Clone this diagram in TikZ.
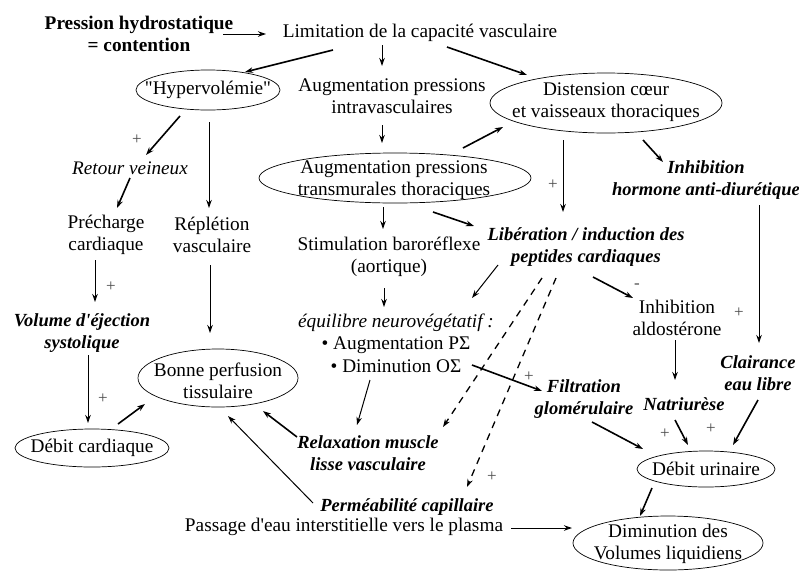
\documentclass[tikz,border=0pt]{standalone}
\usepackage{fontspec}
\setmainfont{Liberation Serif}[Ligatures=TeXOff]
\usetikzlibrary{arrows.meta,shapes.geometric}
\begin{document}
\begin{tikzpicture}[x=1pt,y=-1pt,
  txt/.style={inner sep=0pt, align=center, font=\fontsize{19.3}{22.5}\selectfont},
  itx/.style={txt, font=\fontsize{19.2}{22.5}\selectfont\itshape},
  bix/.style={txt, font=\fontsize{18.5}{22.5}\selectfont\bfseries\itshape},
  bdx/.style={txt, font=\fontsize{19.3}{22.5}\selectfont\bfseries},
  ell/.style={draw, ellipse, inner sep=0pt, line width=0.7pt},
  arr/.style={line width=1pt, -{Stealth[length=8pt,width=5.5pt]}},
  tarr/.style={arr, line width=1.6pt},
  darr/.style={arr, line width=1.3pt, dash pattern=on 7pt off 6pt},
  sgn/.style={inner sep=0pt, font=\fontsize{17}{17}\selectfont, text=black!70}
]
\useasboundingbox (0,0) rectangle (799,584);

% ellipses
\node[ell, minimum width=144pt, minimum height=40pt] (hyp) at (208,90) {};
\node[ell, minimum width=232pt, minimum height=60pt] (dist) at (606,103) {};
\node[ell, minimum width=272pt, minimum height=50pt] (trans) at (395,178) {};
\node[ell, minimum width=160pt, minimum height=58pt] (bonne) at (218,378) {};
\node[ell, minimum width=154pt, minimum height=38pt] (debc) at (92,448) {};
\node[ell, minimum width=138pt, minimum height=36pt] (debu) at (706,469) {};
\node[ell, minimum width=190pt, minimum height=54pt] (dimv) at (668,543) {};

% texts in ellipses
\node[txt] (hypt) at (hyp) {"Hypervolémie"};
\node[txt] (distt) at (606,102) {Distension cœur\\et vaisseaux thoraciques};
\node[txt] (transt) at (394,180) {Augmentation pressions\\transmurales thoraciques};
\node[txt] (bonnet) at (218,381) {Bonne perfusion\\tissulaire};
\node[txt] (debct) at (debc) {Débit cardiaque};
\node[txt] (debut) at (debu) {Débit urinaire};
\node[txt] (dimvt) at (668,544) {Diminution des\\Volumes liquidiens};

% free texts
\node[bdx] (pres) at (139,34) {Pression hydrostatique\\= contention};
\node[txt] (lim) at (420,33) {Limitation de la capacité vasculaire};
\node[txt] (augi) at (392,96) {Augmentation pressions\\intravasculaires};
\node[bix] (inhh) at (706,180) {Inhibition\\hormone anti-diurétique};
\node[itx] (ret) at (130,168) {Retour veineux};
\node[txt] (prech) at (106,235) {Précharge\\cardiaque};
\node[txt] (repl) at (212,235) {Réplétion\\vasculaire};
\node[txt] (stim) at (389,257) {Stimulation baroréflexe\\(aortique)};
\node[bix] (lib) at (586,247) {Libération / induction des\\peptides cardiaques};
\node[txt] (equ) at (396,343) {\itshape équilibre neurovégétatif :\\• Augmentation PΣ\\• Diminution OΣ};
\node[txt] (inha) at (677,318) {Inhibition\\aldostérone};
\node[bix] (vol) at (82,333) {Volume d'éjection\\systolique};
\node[bix] (clair) at (758,373) {Clairance\\eau libre};
\node[bix] (filt) at (584,399) {Filtration\\glomérulaire};
\node[bix] (natr) at (684,404) {Natriurèse};
\node[bix] (relax) at (368,453) {Relaxation muscle\\lisse vasculaire};
\node[bix] (perm) at (407,507) {Perméabilité capillaire};
\node[txt] (pass) at (344,527) {Passage d'eau interstitielle vers le plasma};

% signs
\node[sgn] (s1) at (553,185) {+};
\node[sgn] (s2) at (739,313) {+};
\node[sgn] (s3) at (529,377) {+};
\node[sgn] (s4) at (665,434) {+};
\node[sgn] (s5) at (711,429) {+};
\node[sgn] (s6) at (492,477) {+};
\node[sgn] (s7) at (137,140) {+};
\node[sgn] (s8) at (111,287) {+};
\node[sgn] (s9) at (103,399) {+};
\node[sgn] (m1) at (637,286) {-};

% connectors
\draw[arr] ([shift={(84,0)}]pres.center) -- ([shift={(-154,1)}]lim.center);
\draw[tarr] ([shift={(-87,17)}]lim.center) -- ([shift={(37,-18)}]hyp.center);
\draw[arr] ([shift={(-38,12)}]lim.center) -- ([shift={(-10,-30)}]augi.center);
\draw[tarr] ([shift={(27,14)}]lim.center) -- ([shift={(-79,-28)}]dist.center);
\draw[arr] ([shift={(-10,29)}]augi.center) -- ([shift={(-13,-35)}]trans.center);
\draw[tarr] ([shift={(68,-30)}]trans.center) -- ([shift={(-103,24)}]dist.center);
\draw[arr] ([shift={(-43,37)}]dist.center) -- ([shift={(-23,-35)}]lib.center);
\draw[tarr] ([shift={(37,37)}]dist.center) -- ([shift={(-43,-18)}]inhh.center);
\draw[arr] ([shift={(-12,29)}]trans.center) -- ([shift={(-6,-28)}]stim.center);
\draw[tarr] ([shift={(38,34)}]trans.center) -- ([shift={(-112,-21)}]lib.center);
\draw[arr] ([shift={(-88,18)}]lib.center) -- ([shift={(76,-45)}]equ.center);
\draw[tarr] ([shift={(7,30)}]lib.center) -- ([shift={(-44,-20)}]inha.center);
\draw[arr] ([shift={(53,25)}]inhh.center) -- ([shift={(1,-30)}]clair.center);
\draw[arr] ([shift={(-5,31)}]stim.center) -- ([shift={(-12,-36)}]equ.center);
\draw[arr] ([shift={(-2,22)}]inha.center) -- ([shift={(-9,-24)}]natr.center);
\draw[tarr] ([shift={(76,22)}]equ.center) -- ([shift={(-42,-8)}]filt.center);
\draw[arr] ([shift={(-26,37)}]equ.center) -- ([shift={(-11,-28)}]relax.center);
\draw[tarr] ([shift={(-71,-16)}]relax.center) -- ([shift={(45,33)}]bonne.center);
\draw[arr] ([shift={(-94,-4)}]perm.center) -- ([shift={(10,38)}]bonne.center);
\draw[arr] ([shift={(167,1)}]pass.center) -- ([shift={(-96,-15)}]dimv.center);
\draw[tarr] ([shift={(-54,19)}]debu.center) -- ([shift={(-28,-27)}]dimv.center);
\draw[tarr] ([shift={(8,23)}]filt.center) -- ([shift={(-63,-20)}]debu.center);
\draw[tarr] ([shift={(-9,16)}]natr.center) -- ([shift={(-18,-24)}]debu.center);
\draw[tarr] ([shift={(0,27)}]clair.center) -- ([shift={(27,-24)}]debu.center);
\draw[darr] ([shift={(-44,31)}]lib.center) -- ([shift={(75,-26)}]relax.center);
\draw[darr] ([shift={(-30,31)}]lib.center) -- ([shift={(60,-20)}]perm.center);
\draw[tarr] ([shift={(-28,26)}]hyp.center) -- ([shift={(16,-13)}]ret.center);
\draw[arr] ([shift={(1,32)}]hyp.center) -- ([shift={(-3,-27)}]repl.center);
\draw[tarr] ([shift={(0,10)}]ret.center) -- ([shift={(11,-27)}]prech.center);
\draw[arr] ([shift={(-11,25)}]prech.center) -- ([shift={(13,-31)}]vol.center);
\draw[arr] ([shift={(-2,30)}]repl.center) -- ([shift={(-8,-45)}]bonne.center);
\draw[arr] ([shift={(6,22)}]vol.center) -- ([shift={(-4,-25)}]debc.center);
\draw[tarr] ([shift={(26,-24)}]debc.center) -- ([shift={(-73,26)}]bonne.center);
\end{tikzpicture}
\end{document}
